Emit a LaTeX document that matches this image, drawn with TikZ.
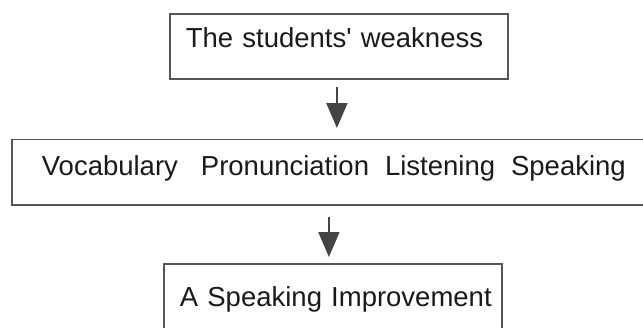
\documentclass[tikz,border=0pt]{standalone}
\usepackage{fontspec}
\setmainfont{Liberation Sans}
\usetikzlibrary{arrows.meta}
\definecolor{boxline}{HTML}{555555}
\definecolor{arrowcol}{HTML}{444444}
\definecolor{txt}{HTML}{1A1A1A}
\begin{document}
\begin{tikzpicture}[x=1pt,y=-1pt,
  box/.style={draw=boxline, line width=1.8pt, inner sep=0pt, anchor=north west,
    align=left, text=txt, font=\fontsize{27.5pt}{30pt}\selectfont},
  arr/.style={draw=arrowcol, line width=2pt, -{Triangle[width=21pt,length=25pt]}}]
\useasboundingbox (0,0) rectangle (643,327);
\clip (0,0) rectangle (643,327);
\fill[white] (0,0) rectangle (643,327);
\node[box, text width=338pt, text height=34pt, text depth=31pt] (top) at (169,13)
  {\hspace*{16pt}The students\textquotesingle\ weakness};
\node[box, text width=660pt, text height=36.5pt, text depth=29pt] (mid) at (11,138.5)
  {\hspace*{30pt}Vocabulary\hspace{23pt}Pronunciation\hspace{16pt}Listening\hspace{16pt}Speaking};
\node[box, text width=338pt, text height=43pt, text depth=40pt] (bot) at (163,263)
  {\hspace*{16pt}A Speaking Improvement};
\draw[arr, shorten <=7pt, shorten >=10.5pt] ([xshift=-2pt]top.south) -- ([xshift=-2pt]top.south |- mid.north);
\draw[arr, shorten <=11pt, shorten >=6pt] ([xshift=-4pt]bot.north |- mid.south) -- ([xshift=-4pt]bot.north);
\end{tikzpicture}
\end{document}
